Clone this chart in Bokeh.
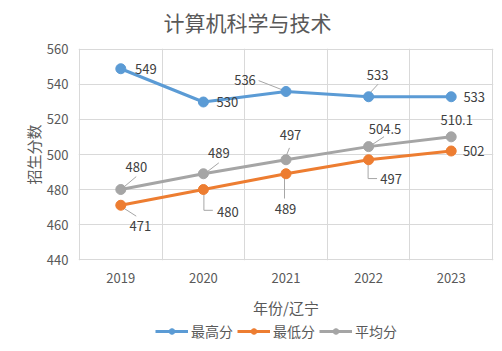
from bokeh.plotting import figure
from bokeh.layouts import column
from bokeh.models import (Range1d, FixedTicker, LabelSet, ColumnDataSource,
                          Legend, LegendItem, Label)
from bokeh.core.properties import value
from bokeh.embed import file_html
from bokeh.resources import INLINE

# ---- data ----
years = ["2019", "2020", "2021", "2022", "2023"]
max_scores = [549, 530, 536, 533, 533]
min_scores = [471, 480, 489, 497, 502]
avg_scores = [480, 489, 497, 504.5, 510.1]
max_text = ["549", "530", "536", "533", "533"]
min_text = ["471", "480", "489", "497", "502"]
avg_text = ["480", "489", "497", "504.5", "510.1"]
y_ticks = [440, 460, 480, 500, 520, 540, 560]
series_names = ["最高分", "最低分", "平均分"]
chart_title = "计算机科学与技术"

# ---- layout / style ----
W, H = 502, 351
TITLE_H = 38
LEFT, RIGHT, TOP, BOTTOM = 78, 9, 10, 61
FH = 212
MAIN_H = TOP + FH + BOTTOM
LEG_H = H - TITLE_H - MAIN_H
FW = W - LEFT - RIGHT
YMIN, YMAX = 440, 560
PX_X = FW / len(years)
PX_Y = FH / (YMAX - YMIN)
PADX, PADY = 1 / PX_X, 1 / PX_Y
FONT = "Noto Sans CJK SC"
colors = ["#5B9BD5", "#ED7D31", "#A5A5A5"]

# label offsets in screen pixels (dx right, dy up)
max_off = [(25, 0), (24, 0), (-41, 11), (9, 22), (23, 0)]
min_off = [(19.5, -21), (24.5, -22), (-0.5, -35), (22.5, -19), (22.5, 0)]
avg_off = [(15.5, 23), (15.5, 21), (4.5, 25), (16.5, 18), (5.5, 17)]

# leader lines (screen pixel vertices relative to the point)
max_lead = [None, None, [(-27.5, 11), (-2, 1)], [(9.5, 12.7), (-1.5, 0.7)], None]
min_lead = [[(15.5, -11), (1.5, -2)], [(0.5, -3), (0.5, -21), (9.5, -21)],
            [(-1.5, -4), (-1.5, -25)], [(-0.5, -3), (-0.5, -19), (8.5, -19)], None]
avg_lead = [[(15.5, 13), (2.5, 2)], [(15.5, 11), (2.5, 1)], [(3.5, 12), (-0.5, 2)],
            [(15.5, 10), (3.5, 2)], None]


def strip(height):
    f = figure(width=W, height=height, output_backend="svg", toolbar_location=None,
               x_range=Range1d(LEFT, W - RIGHT), y_range=Range1d(height, 0),
               min_border_left=LEFT, min_border_right=RIGHT,
               min_border_top=0, min_border_bottom=0)
    f.axis.visible = False
    f.grid.visible = False
    f.outline_line_color = None
    return f


# ---- title strip ----
ts = strip(TITLE_H)
ts.add_layout(Label(x=247, y=21, text=chart_title, text_align="center",
                    text_baseline="middle", text_font=FONT, text_font_size="21px",
                    text_color="#595959"))

# ---- main chart ----
p = figure(width=W, height=MAIN_H, output_backend="svg", toolbar_location=None,
           x_range=Range1d(-0.5 - PADX, len(years) - 0.5 + PADX),
           y_range=Range1d(YMIN - PADY, YMAX + PADY),
           min_border_left=LEFT, min_border_right=RIGHT,
           min_border_top=TOP, min_border_bottom=BOTTOM)
p.outline_line_color = None
p.background_fill_color = "white"

xs = list(range(len(years)))

p.xaxis.ticker = FixedTicker(ticks=xs)
p.xaxis.major_label_overrides = {i: y for i, y in enumerate(years)}
p.yaxis.ticker = FixedTicker(ticks=y_ticks)
for ax in (p.xaxis[0], p.yaxis[0]):
    ax.axis_line_color = None
    ax.major_tick_line_color = None
    ax.minor_tick_line_color = None
    ax.major_tick_out = 0
    ax.major_tick_in = 0
    ax.minor_tick_out = 0
    ax.minor_tick_in = 0
    ax.major_label_text_font = FONT
    ax.major_label_text_font_size = "13px"
    ax.major_label_text_color = "#595959"
    ax.axis_label_text_font = FONT
    ax.axis_label_text_font_size = "15px"
    ax.axis_label_text_color = "#595959"
    ax.axis_label_text_font_style = "normal"
p.xaxis.major_label_standoff = 12
p.yaxis.major_label_standoff = 10
p.xaxis.axis_label = "年份/辽宁"
p.yaxis.axis_label = "招生分数"
p.xaxis.axis_label_standoff = 11
p.yaxis.axis_label_standoff = 0

p.xgrid.ticker = FixedTicker(ticks=[i - 0.5 for i in range(len(years) + 1)])
p.ygrid.ticker = FixedTicker(ticks=y_ticks)
p.xgrid.grid_line_color = "#d9d9d9"
p.ygrid.grid_line_color = "#d9d9d9"

all_series = [(max_scores, max_text, max_off, max_lead),
              (min_scores, min_text, min_off, min_lead),
              (avg_scores, avg_text, avg_off, avg_lead)]
for k in [2, 1, 0]:
    vals, texts, offs, leads = all_series[k]
    lx, ly = [], []
    for i, (v, ld) in enumerate(zip(vals, leads)):
        if ld:
            lx.append([i + dx / PX_X for dx, dy in ld])
            ly.append([v + dy / PX_Y for dx, dy in ld])
    if lx:
        p.multi_line(lx, ly, line_color="#a6a6a6", line_width=1)
    p.line(xs, vals, line_color=colors[k], line_width=3)
    p.scatter(xs, vals, size=10, fill_color=colors[k], line_color=colors[k])
    src = ColumnDataSource(dict(x=xs, y=vals, t=texts,
                                dx=[o[0] for o in offs], dy=[o[1] for o in offs]))
    p.add_layout(LabelSet(x="x", y="y", text="t", source=src,
                          x_offset="dx", y_offset="dy",
                          text_align="center", text_baseline="middle",
                          text_font=value(FONT), text_font_size="13px",
                          text_color="#404040"))

# ---- legend strip ----
lg = figure(width=W, height=LEG_H, output_backend="svg", toolbar_location=None,
            x_range=Range1d(-0.5, len(years) - 0.5), y_range=Range1d(0, 1),
            min_border_left=LEFT, min_border_right=RIGHT,
            min_border_top=0, min_border_bottom=0)
lg.axis.visible = False
lg.grid.visible = False
lg.outline_line_color = None
all_vals = [max_scores, min_scores, avg_scores]
items = []
for k in range(3):
    # series lie far outside this strip's y range: only the legend glyph shows
    ln = lg.line(xs, all_vals[k], line_color=colors[k], line_width=3)
    sc = lg.scatter(xs, all_vals[k], size=10, fill_color=colors[k], line_color=colors[k])
    items.append(LegendItem(label=series_names[k], renderers=[ln, sc]))
legend = Legend(items=items, orientation="horizontal", location=(77, 10),
                label_text_font=FONT, label_text_font_size="14px",
                label_text_color="#595959", glyph_width=33, glyph_height=14,
                label_standoff=3, spacing=4, padding=0, margin=0,
                border_line_color=None, background_fill_alpha=0)
lg.add_layout(legend, "center")

layout = column(ts, p, lg, spacing=0)
open("out.html", "w").write(file_html(layout, INLINE))
